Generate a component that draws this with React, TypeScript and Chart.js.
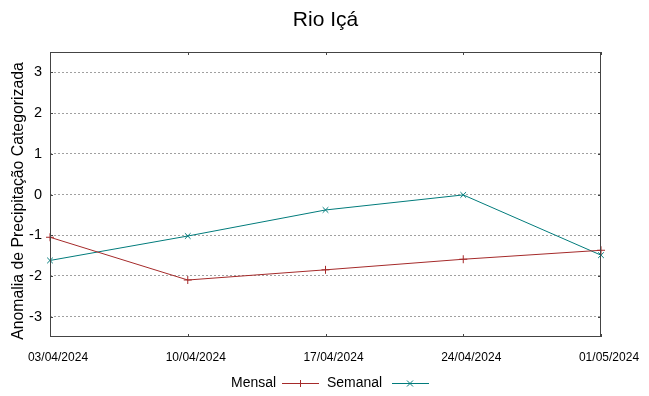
import React, { useEffect, useRef } from "react";
import { Chart, registerables } from "chart.js";

Chart.register(...registerables);

const title = "Rio Içá";
const yAxisTitle = "Anomalia de Precipitação Categorizada";
const dateLabels = ["03/04/2024", "10/04/2024", "17/04/2024", "24/04/2024", "01/05/2024"];
const mensalValues = [-1.05, -2.1, -1.85, -1.59, -1.37];
const semanalValues = [-1.62, -1.02, -0.38, -0.01, -1.49];
const yTickValues = [-3, -2, -1, 0, 1, 2, 3];
const legendNames = ["Mensal", "Semanal"];

const MENSAL_COLOR = "#a52a2a";
const SEMANAL_COLOR = "#007b7b";

function condensedText(ctx: any, text: string, x: number, y: number, align: string, k: number) {
  ctx.save();
  ctx.translate(x, y);
  ctx.scale(k, 1);
  ctx.textAlign = align;
  ctx.fillText(text, 0, 0);
  ctx.restore();
}

const framePlugin = {
  id: "frame",
  afterDraw(chart: any) {
    const { ctx, chartArea } = chart;
    const { left, right, top, bottom } = chartArea;
    ctx.save();
    ctx.strokeStyle = "#444";
    ctx.lineWidth = 1;
    ctx.strokeRect(left + 0.5, top + 0.5, right - left - 1, bottom - top - 1);
    const ys = chart.scales.y;
    ctx.beginPath();
    yTickValues.forEach((v) => {
      const py = Math.round(ys.getPixelForValue(v)) + 0.5;
      ctx.moveTo(left, py);
      ctx.lineTo(left + 3, py);
      ctx.moveTo(right, py);
      ctx.lineTo(right - 3, py);
    });
    const xs = chart.scales.x;
    dateLabels.forEach((_, i) => {
      const px = Math.round(xs.getPixelForValue(i)) + 0.5;
      ctx.moveTo(px, bottom);
      ctx.lineTo(px, bottom - 3);
      ctx.moveTo(px, top);
      ctx.lineTo(px, top + 3);
    });
    ctx.stroke();

    ctx.fillStyle = "#000";
    ctx.textBaseline = "middle";

    // x tick labels
    ctx.font = "13.5px 'Liberation Sans', Arial, sans-serif";
    dateLabels.forEach((lab, i) => {
      const px = xs.getPixelForValue(i);
      condensedText(ctx, lab, px + 8, 357, "center", 0.89);
    });

    // y axis title
    ctx.save();
    ctx.translate(19, 201);
    ctx.rotate(-Math.PI / 2);
    ctx.font = "15.8px 'Liberation Sans', Arial, sans-serif";
    ctx.textAlign = "center";
    ctx.fillText(yAxisTitle, 0, 0);
    ctx.restore();

    // title
    ctx.font = "21px 'Liberation Sans', Arial, sans-serif";
    ctx.textAlign = "center";
    ctx.fillText(title, (left + right) / 2, 20);

    // legend
    const ly = 383;
    ctx.font = "15.5px 'Liberation Sans', Arial, sans-serif";
    condensedText(ctx, legendNames[0], 276, ly, "right", 0.9);
    condensedText(ctx, legendNames[1], 382, ly, "right", 0.9);
    ctx.lineWidth = 1;
    ctx.strokeStyle = MENSAL_COLOR;
    ctx.beginPath();
    ctx.moveTo(282, ly + 0.5);
    ctx.lineTo(319, ly + 0.5);
    ctx.moveTo(300.5, ly - 3);
    ctx.lineTo(300.5, ly + 4);
    ctx.stroke();
    ctx.strokeStyle = SEMANAL_COLOR;
    ctx.beginPath();
    ctx.moveTo(392, ly + 0.5);
    ctx.lineTo(429, ly + 0.5);
    ctx.moveTo(407, ly - 2.5);
    ctx.lineTo(413, ly + 3.5);
    ctx.moveTo(413, ly - 2.5);
    ctx.lineTo(407, ly + 3.5);
    ctx.stroke();
    ctx.restore();
  },
};

export default function App() {
  const ref = useRef<HTMLCanvasElement | null>(null);
  useEffect(() => {
    document.body.style.margin = "0";
    const canvas = ref.current;
    if (!canvas) return;
    const chart = new Chart(canvas, {
      type: "line",
      data: {
        labels: dateLabels,
        datasets: [
          {
            label: legendNames[0],
            data: mensalValues,
            borderColor: MENSAL_COLOR,
            backgroundColor: MENSAL_COLOR,
            borderWidth: 1,
            pointStyle: "cross",
            pointRadius: 4,
            pointBorderWidth: 1,
            tension: 0,
          },
          {
            label: legendNames[1],
            data: semanalValues,
            borderColor: SEMANAL_COLOR,
            backgroundColor: SEMANAL_COLOR,
            borderWidth: 1,
            pointStyle: "crossRot",
            pointRadius: 4,
            pointBorderWidth: 1,
            tension: 0,
          },
        ],
      },
      options: {
        responsive: false,
        animation: false,
        layout: { padding: { left: 0, right: 48, top: 52, bottom: 0 } },
        plugins: {
          legend: { display: false },
          title: { display: false },
          tooltip: { enabled: false },
        },
        scales: {
          x: {
            type: "category",
            offset: false,
            grid: { display: false, drawTicks: false },
            border: { display: false },
            ticks: {
              padding: 13,
              maxRotation: 0,
              autoSkip: false,
              color: "rgba(0,0,0,0)",
              font: { family: "'Liberation Sans', Arial, sans-serif", size: 12 },
            },
            afterFit(scale: any) {
              scale.height = 59;
            },
          },
          y: {
            min: -3.5,
            max: 3.5,
            afterBuildTicks(scale: any) {
              scale.ticks = yTickValues.map((v) => ({ value: v }));
            },
            grid: {
              color: "#a0a0a0",
              lineWidth: 1,
              drawTicks: false,
            },
            border: { display: false, dash: [2, 2] },
            ticks: {
              padding: 8,
              color: "#000",
              font: { family: "'Liberation Sans', Arial, sans-serif", size: 14.5 },
            },
            title: { display: false },
            afterFit(scale: any) {
              scale.width = 50;
            },
          },
        },
      },
      plugins: [framePlugin],
    } as any);
    return () => chart.destroy();
  }, []);
  return (
    <div style={{ position: "absolute", left: 0, top: 0, width: 649, height: 396 }}>
      <canvas ref={ref} width={649} height={396} />
    </div>
  );
}
